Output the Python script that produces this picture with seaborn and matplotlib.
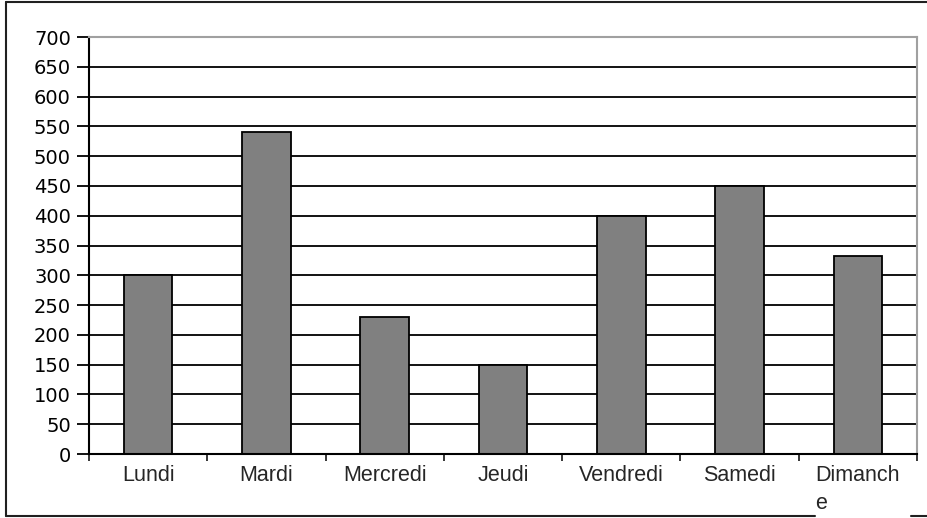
import matplotlib.pyplot as plt
import seaborn as sns
import numpy as np
from matplotlib.lines import Line2D

days = ['Lundi', 'Mardi', 'Mercredi', 'Jeudi', 'Vendredi', 'Samedi', 'Dimanche']
values = [300, 540, 230, 150, 400, 450, 333]
day_labels = ['Lundi', 'Mardi', 'Mercredi', 'Jeudi', 'Vendredi', 'Samedi', 'Dimanch\ne']
y_ticks = list(range(0, 701, 50))


def main():
    sns.set_style('white')
    fig = plt.figure(figsize=(9.28, 5.18), dpi=100)
    ax = fig.add_axes([89 / 928, 1 - 454 / 518, (917 - 89) / 928, (454 - 37) / 518])

    for y in y_ticks[1:-1]:
        ax.axhline(y, color='black', lw=1.3, zorder=0)

    sns.barplot(x=days, y=values, color='#808080', saturation=1, width=0.41,
                edgecolor='black', linewidth=1.3, ax=ax, zorder=2)

    ax.set_xlim(-0.5, len(days) - 0.5)
    ax.set_ylim(0, 700)
    ax.set_yticks(y_ticks)
    ax.set_yticklabels([str(v) for v in y_ticks], fontsize=14, family='DejaVu Sans',
                       color='#202020')
    ax.tick_params(axis='y', direction='out', length=9, width=1.3, pad=4, left=True, colors='black')

    ax.set_xticks(range(len(days)))
    ax.set_xticklabels(day_labels, fontsize=15.5, family='Liberation Sans', ha='center',
                       multialignment='left', va='top', linespacing=1.4)
    ax.tick_params(axis='x', which='major', length=0, pad=8)
    ax.set_xticks(np.arange(-0.5, len(days), 1.0), minor=True)
    ax.tick_params(axis='x', which='minor', direction='out', length=5, width=1.3, bottom=True)

    for side in ['left', 'bottom']:
        ax.spines[side].set_color('black')
        ax.spines[side].set_linewidth(1.5)
    for side in ['top', 'right']:
        ax.spines[side].set_color('#a0a0a0')
        ax.spines[side].set_linewidth(1.5)
    ax.set_xlabel('')
    ax.set_ylabel('')

    # cadre extérieur du graphique
    def fline(x0, y0, x1, y1):
        fig.add_artist(Line2D([x0 / 928, x1 / 928], [1 - y0 / 518, 1 - y1 / 518],
                              color='#202020', lw=1.5, transform=fig.transFigure))

    fline(6, 2, 928, 2)
    fline(6, 2, 6, 516)
    fline(6, 516, 815, 516)
    fline(911, 516, 928, 516)

    fig.savefig('out.png', dpi=100)
    plt.close(fig)


if __name__ == '__main__':
    main()
